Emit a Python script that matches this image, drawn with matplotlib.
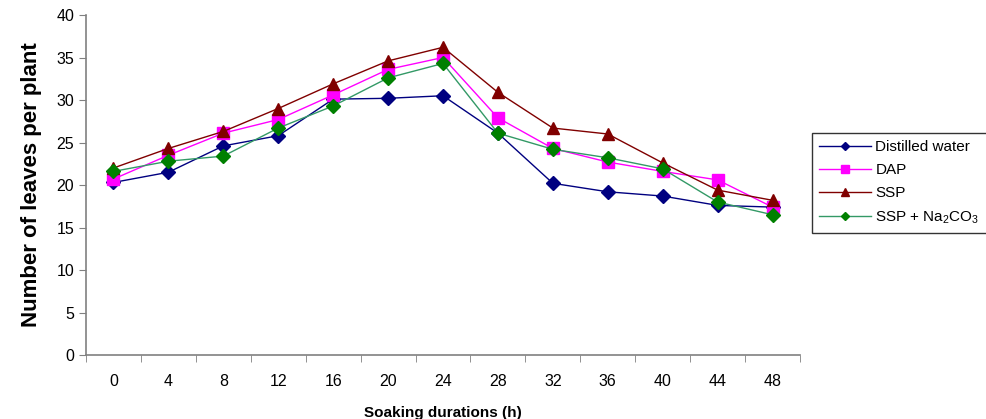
import matplotlib
matplotlib.use("Agg")
import matplotlib.pyplot as plt
import numpy as np

plt.rcParams['font.family'] = ['Liberation Sans', 'DejaVu Sans']
plt.rcParams['mathtext.default'] = 'regular'

hours = [0, 4, 8, 12, 16, 20, 24, 28, 32, 36, 40, 44, 48]
distilled = [20.3, 21.5, 24.6, 25.8, 30.1, 30.2, 30.5, 26.1, 20.2, 19.2, 18.7, 17.6, 17.4]
dap = [20.7, 23.5, 26.1, 27.7, 30.6, 33.6, 35.0, 27.9, 24.3, 22.7, 21.6, 20.6, 17.4]
ssp = [22.0, 24.3, 26.3, 29.0, 31.9, 34.6, 36.2, 30.9, 26.7, 26.0, 22.6, 19.4, 18.2]
ssp_na = [21.6, 22.8, 23.4, 26.7, 29.3, 32.6, 34.3, 26.1, 24.2, 23.2, 21.9, 18.0, 16.5]

fig = plt.figure(figsize=(9.87, 4.19), dpi=100)
ax = fig.add_axes([86 / 987, 1 - 355 / 419, 714 / 987, 340 / 419])

x = np.arange(len(hours))
ax.plot(x, distilled, color='#000080', lw=1, marker='D', ms=7, mfc='#000080', mec='#000080', label='Distilled water')
ax.plot(x, dap, color='#FF00FF', lw=1, marker='s', ms=8, mfc='#FF00FF', mec='#FF00FF', label='DAP')
ax.plot(x, ssp, color='#800000', lw=1, marker='^', ms=9, mfc='#800000', mec='#800000', label='SSP')
ax.plot(x, ssp_na, color='#339966', lw=1, marker='D', ms=7, mfc='#008000', mec='#008000', label=r'SSP + Na$_2$CO$_3$')

ax.set_xlim(-0.5, len(hours) - 0.5)
ax.set_ylim(0, 40)
ax.set_yticks(range(0, 41, 5))
ax.set_xticks(x)
ax.set_xticklabels([str(h) for h in hours])
ax.set_xticks(np.arange(-0.5, len(hours), 1), minor=True)
ax.tick_params(axis='x', which='major', length=0, pad=14, labelsize=11.5)
ax.tick_params(axis='x', which='minor', length=5, direction='out', color='#808080')
ax.tick_params(axis='y', length=5, direction='out', color='#808080', labelsize=11.5)

for s in ['top', 'right']:
    ax.spines[s].set_visible(False)
for s in ['left', 'bottom']:
    ax.spines[s].set_color('#808080')
    ax.spines[s].set_linewidth(1.2)

ax.set_xlabel('Soaking durations (h)', fontsize=11, fontweight='bold', labelpad=12)
ax.set_ylabel('Number of leaves per plant', fontsize=16, fontweight='bold', labelpad=10)

leg = ax.legend(loc='upper left', bbox_to_anchor=(812 / 987, 1 - 133 / 419), bbox_transform=fig.transFigure,
                fontsize=11, markerscale=0.65, handlelength=3.4, frameon=True, fancybox=False,
                borderpad=0.45, labelspacing=0.6, handletextpad=0.3, borderaxespad=0)
leg.get_frame().set_edgecolor('black')
leg.get_frame().set_linewidth(1)

fig.savefig('out.png', dpi=100)
